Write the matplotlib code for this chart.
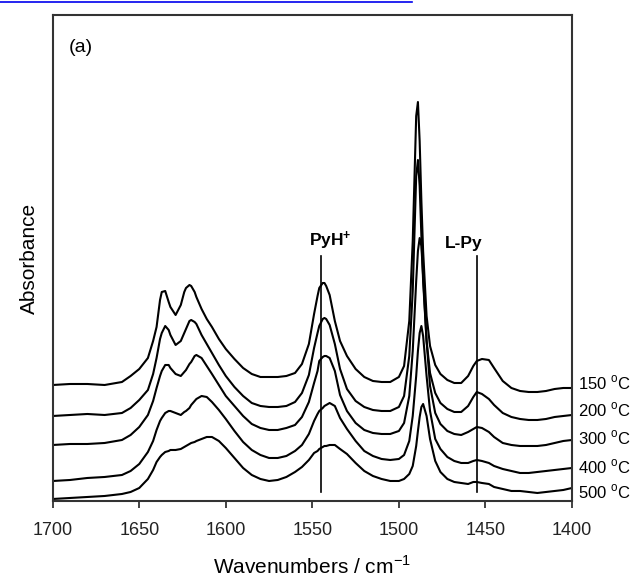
import matplotlib
matplotlib.use("Agg")
import matplotlib.pyplot as plt
from matplotlib.lines import Line2D

plt.rcParams['font.family'] = ['Liberation Sans', 'DejaVu Sans']
plt.rcParams['mathtext.fontset'] = 'custom'
plt.rcParams['mathtext.rm'] = 'Liberation Sans'
plt.rcParams['mathtext.bf'] = 'Liberation Sans:bold'

# wavenumber grid (cm-1)
wavenumbers = [1700, 1690, 1680, 1670, 1660, 1655, 1650, 1645,
               1642, 1640, 1638, 1637, 1635, 1633, 1632, 1629,
               1626, 1624, 1623, 1621, 1620, 1618, 1617, 1614,
               1611, 1608, 1604, 1600, 1595, 1590, 1585, 1580,
               1575, 1570, 1565, 1560, 1556, 1552, 1549, 1547,
               1546, 1544, 1543, 1542, 1540, 1537, 1534,
               1530, 1525, 1520, 1515, 1510, 1505, 1500, 1497, 1494, 1492, 1490, 1489, 1488,
               1487, 1486, 1484, 1482, 1479, 1476, 1472, 1468, 1464, 1460, 1457, 1455, 1452,
               1448, 1445, 1440, 1435, 1430, 1425, 1420, 1415, 1410, 1405, 1400]

# absorbance (a.u., offset already included as in the figure)
abs_150 = [1.16, 1.17, 1.17, 1.16, 1.19, 1.25, 1.32, 1.43,
           1.60, 1.74, 2.01, 2.09, 2.10, 1.99, 1.94, 1.86,
           1.96, 2.09, 2.13, 2.16, 2.15, 2.09, 2.04, 1.92,
           1.82, 1.74, 1.62, 1.52, 1.42, 1.33, 1.27, 1.24,
           1.24, 1.24, 1.25, 1.28, 1.37, 1.57, 1.87, 2.05,
           2.13, 2.18, 2.18, 2.15, 2.06, 1.80, 1.60,
           1.45, 1.32, 1.24, 1.20, 1.19, 1.19, 1.24, 1.35, 1.80, 2.60, 3.85, 3.99, 3.60,
           3.00, 2.50, 1.85, 1.55, 1.36, 1.27, 1.21, 1.18, 1.18, 1.25, 1.35, 1.40, 1.42,
           1.41, 1.33, 1.20, 1.13, 1.10, 1.09, 1.09, 1.10, 1.12, 1.13, 1.13]
abs_200 = [0.85, 0.86, 0.87, 0.86, 0.88, 0.93, 1.01, 1.11,
           1.27, 1.43, 1.62, 1.68, 1.75, 1.71, 1.66, 1.56,
           1.60, 1.68, 1.72, 1.80, 1.81, 1.79, 1.77, 1.66,
           1.57, 1.48, 1.36, 1.25, 1.14, 1.05, 0.98, 0.95,
           0.94, 0.94, 0.95, 0.99, 1.08, 1.26, 1.53, 1.68,
           1.75, 1.82, 1.83, 1.82, 1.76, 1.57, 1.32,
           1.12, 1.00, 0.94, 0.91, 0.90, 0.90, 0.94, 1.05, 1.45, 2.10, 3.25, 3.41, 3.15,
           2.65, 2.20, 1.60, 1.28, 1.08, 0.98, 0.92, 0.89, 0.89, 0.95, 1.04, 1.09, 1.07,
           1.02, 0.96, 0.88, 0.84, 0.82, 0.81, 0.81, 0.82, 0.84, 0.85, 0.86]
abs_300 = [0.56, 0.57, 0.57, 0.58, 0.61, 0.66, 0.74, 0.86,
           1.00, 1.13, 1.25, 1.30, 1.36, 1.36, 1.33, 1.27,
           1.25, 1.29, 1.31, 1.37, 1.39, 1.45, 1.46, 1.43,
           1.35, 1.27, 1.16, 1.05, 0.95, 0.85, 0.77, 0.73,
           0.71, 0.71, 0.73, 0.76, 0.84, 0.99, 1.18, 1.30,
           1.40, 1.44, 1.45, 1.45, 1.43, 1.30, 1.06,
           0.90, 0.78, 0.71, 0.68, 0.67, 0.67, 0.70, 0.78, 1.05, 1.50, 2.20, 2.50, 2.63,
           2.55, 2.25, 1.60, 1.15, 0.88, 0.77, 0.70, 0.67, 0.66, 0.69, 0.72, 0.74, 0.73,
           0.69, 0.64, 0.58, 0.56, 0.55, 0.55, 0.55, 0.56, 0.58, 0.60, 0.61]
abs_400 = [0.20, 0.21, 0.23, 0.24, 0.26, 0.30, 0.37, 0.49,
           0.60, 0.71, 0.80, 0.83, 0.88, 0.90, 0.90, 0.88,
           0.86, 0.89, 0.90, 0.93, 0.96, 1.00, 1.02, 1.05,
           1.04, 0.99, 0.91, 0.82, 0.70, 0.59, 0.51, 0.46,
           0.43, 0.43, 0.45, 0.50, 0.56, 0.67, 0.80, 0.87,
           0.90, 0.93, 0.95, 0.96, 0.98, 0.95, 0.83,
           0.72, 0.60, 0.50, 0.45, 0.42, 0.41, 0.42, 0.46, 0.60, 0.85, 1.25, 1.50, 1.68,
           1.75, 1.65, 1.25, 0.90, 0.62, 0.52, 0.44, 0.40, 0.38, 0.38, 0.40, 0.41, 0.40,
           0.38, 0.35, 0.32, 0.30, 0.28, 0.28, 0.29, 0.30, 0.31, 0.32, 0.33]
abs_500 = [0.02, 0.03, 0.04, 0.05, 0.07, 0.09, 0.13, 0.22,
           0.31, 0.39, 0.44, 0.46, 0.49, 0.50, 0.51, 0.51,
           0.52, 0.54, 0.55, 0.57, 0.58, 0.59, 0.60, 0.62,
           0.64, 0.64, 0.60, 0.53, 0.43, 0.33, 0.26, 0.22,
           0.20, 0.21, 0.24, 0.29, 0.34, 0.41, 0.48, 0.50,
           0.52, 0.54, 0.55, 0.55, 0.56, 0.56, 0.52,
           0.47, 0.38, 0.30, 0.25, 0.22, 0.20, 0.20, 0.22, 0.27, 0.35, 0.55, 0.70, 0.84,
           0.94, 0.97, 0.85, 0.62, 0.40, 0.29, 0.22, 0.19, 0.18, 0.17, 0.19, 0.19, 0.18,
           0.17, 0.14, 0.12, 0.10, 0.10, 0.09, 0.08, 0.09, 0.10, 0.11, 0.13]

spectra = [abs_150, abs_200, abs_300, abs_400, abs_500]
temp_labels = ['150', '200', '300', '400', '500']
label_y = [1.18, 0.91, 0.63, 0.34, 0.09]

band_pos = [1545, 1455]
band_names = [r'$\mathbf{PyH^{+}}$', 'L-Py']

fig = plt.figure(figsize=(6.39, 5.82), dpi=100)
ax = fig.add_axes([0.0825, 0.1392, 0.8126, 0.835])

for s in spectra:
    ax.plot(wavenumbers, s, color='black', lw=1.5, solid_joinstyle='round')

# band marker lines
for b in band_pos:
    ax.plot([b, b], [0.09, 2.45], color='black', lw=1.2)
ax.text(1539.5, 2.60, band_names[0], ha='center', va='center', fontsize=12.5)
ax.text(1462.5, 2.58, band_names[1], ha='center', va='center', fontsize=12.5,
        fontweight='bold')

for t, y in zip(temp_labels, label_y):
    ax.text(1396.3, y, t + r' $^{\mathrm{o}}$C', ha='left', va='center',
            fontsize=12, clip_on=False)

ax.text(1691, 4.54, '(a)', ha='left', va='center', fontsize=14)

ax.set_xlim(1700, 1400)
ax.set_ylim(0, 4.86)
ax.set_xticks([1700, 1650, 1600, 1550, 1500, 1450, 1400])
ax.set_yticks([])
ax.tick_params(axis='x', direction='out', length=5, width=1.2, labelsize=13, pad=10,
               colors='#222222')
for sp in ax.spines.values():
    sp.set_linewidth(1.5)
    sp.set_color('#333333')

ax.set_xlabel(r'Wavenumbers / cm$^{-1}$', fontsize=15, labelpad=12)
ax.set_ylabel('Absorbance', fontsize=15, labelpad=10)

# clipped hyperlink underline at the very top of the page
fig.add_artist(Line2D([0, 0.645], [0.997, 0.997], transform=fig.transFigure,
                      color='#0000ee', lw=1.2))

fig.savefig('out.png', dpi=100)
